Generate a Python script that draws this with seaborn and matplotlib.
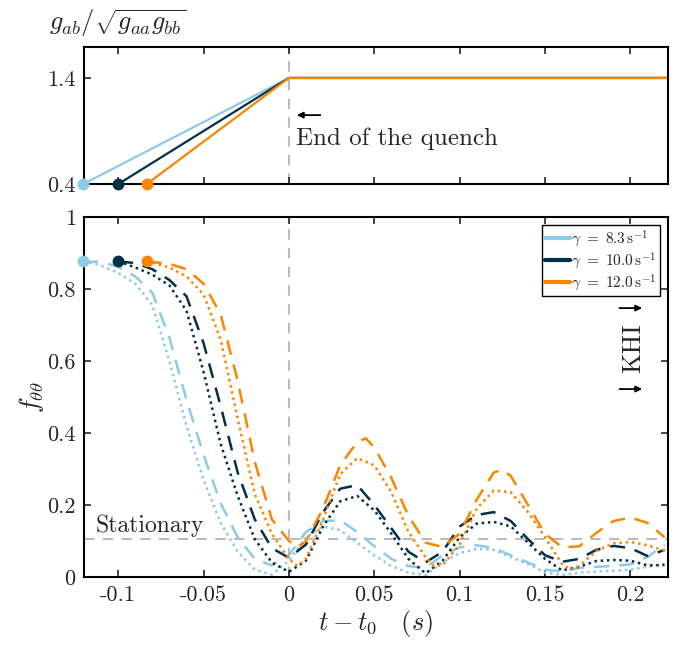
import numpy as np
import pandas as pd
import matplotlib
matplotlib.use("Agg")
import matplotlib.pyplot as plt
import seaborn as sns
from matplotlib.ticker import FuncFormatter
from matplotlib.lines import Line2D

# quench rates and their colours
gammas = ["8.3", "10.0", "12.0"]
colors = {"8.3": "#8ecae6", "10.0": "#023047", "12.0": "#fb8500"}
quench_start = {"8.3": -0.1205, "10.0": -0.1, "12.0": -0.0833}
g_before = 0.4
g_after = 1.4
t_end = 0.222
f_stationary = 0.106

# f_theta_theta curves (dashed / dotted per gamma)
t_83 = [-0.1205, -0.11, -0.10, -0.09, -0.08, -0.07, -0.06, -0.05, -0.04, -0.03, -0.02, -0.01,
        0.0, 0.01, 0.02, 0.03, 0.04, 0.05, 0.06, 0.07, 0.08, 0.09, 0.10, 0.11,
        0.12, 0.13, 0.14, 0.15, 0.16, 0.17, 0.18, 0.19, 0.20, 0.21, 0.22]
f_83_dashed = [0.877, 0.875, 0.862, 0.835, 0.79, 0.665, 0.492, 0.34, 0.205, 0.11, 0.05, 0.032,
               0.06, 0.125, 0.155, 0.157, 0.125, 0.085, 0.05, 0.03, 0.025, 0.06, 0.082, 0.088,
               0.08, 0.06, 0.04, 0.02, 0.015, 0.025, 0.028, 0.03, 0.035, 0.055, 0.09]
f_83_dotted = [0.877, 0.865, 0.845, 0.815, 0.755, 0.60, 0.42, 0.27, 0.15, 0.07, 0.02, 0.006,
               0.045, 0.11, 0.14, 0.13, 0.095, 0.06, 0.03, 0.012, 0.005, 0.04, 0.066, 0.078,
               0.075, 0.055, 0.035, 0.012, 0.005, 0.012, 0.015, 0.017, 0.02, 0.028, 0.035]

t_10 = [-0.10, -0.09, -0.08, -0.07, -0.06, -0.05, -0.04, -0.03, -0.02, -0.01,
        0.0, 0.01, 0.02, 0.03, 0.04, 0.05, 0.06, 0.07, 0.08, 0.09, 0.10, 0.11,
        0.12, 0.13, 0.14, 0.15, 0.16, 0.17, 0.18, 0.19, 0.20, 0.21, 0.22]
f_10_dashed = [0.877, 0.872, 0.855, 0.825, 0.78, 0.65, 0.475, 0.29, 0.16, 0.08,
               0.053, 0.09, 0.18, 0.245, 0.255, 0.2, 0.135, 0.07, 0.04, 0.07, 0.14, 0.172,
               0.18, 0.155, 0.105, 0.06, 0.042, 0.05, 0.075, 0.086, 0.08, 0.058, 0.075]
f_10_dotted = [0.877, 0.86, 0.84, 0.81, 0.74, 0.57, 0.37, 0.225, 0.105, 0.04,
               0.014, 0.045, 0.14, 0.21, 0.225, 0.185, 0.12, 0.05, 0.01, 0.045, 0.11, 0.148,
               0.153, 0.14, 0.095, 0.05, 0.018, 0.028, 0.044, 0.047, 0.045, 0.032, 0.033]

t_12_dashed = [-0.0833, -0.07, -0.06, -0.05, -0.04, -0.03, -0.02, -0.01,
               0.0, 0.005, 0.01, 0.02, 0.03, 0.04, 0.045, 0.05, 0.06, 0.07, 0.08, 0.09, 0.10,
               0.11, 0.12, 0.125, 0.13, 0.14, 0.15, 0.16, 0.17, 0.18, 0.19, 0.20, 0.21, 0.22]
f_12_dashed = [0.877, 0.87, 0.855, 0.815, 0.73, 0.545, 0.32, 0.16,
               0.10, 0.082, 0.10, 0.19, 0.31, 0.375, 0.385, 0.36, 0.275, 0.17, 0.095, 0.083, 0.12,
               0.215, 0.29, 0.298, 0.28, 0.2, 0.12, 0.082, 0.085, 0.122, 0.155, 0.165, 0.15, 0.11]
t_12_dotted = [-0.0833, -0.07, -0.06, -0.05, -0.04, -0.03, -0.02, -0.01,
               0.0, 0.005, 0.01, 0.02, 0.03, 0.04, 0.05, 0.06, 0.07, 0.08, 0.085, 0.09, 0.10,
               0.11, 0.12, 0.13, 0.14, 0.15, 0.16, 0.165, 0.17, 0.18, 0.19, 0.20, 0.21, 0.22]
f_12_dotted = [0.877, 0.86, 0.835, 0.785, 0.66, 0.44, 0.23, 0.12,
               0.05, 0.03, 0.05, 0.16, 0.285, 0.33, 0.31, 0.235, 0.125, 0.055, 0.03, 0.033, 0.09,
               0.19, 0.24, 0.235, 0.18, 0.11, 0.035, 0.02, 0.03, 0.072, 0.093, 0.097, 0.088, 0.073]

# long table for seaborn
parts = []
for g, kind, t, f in [("8.3", "dashed", t_83, f_83_dashed), ("8.3", "dotted", t_83, f_83_dotted),
                      ("10.0", "dashed", t_10, f_10_dashed), ("10.0", "dotted", t_10, f_10_dotted),
                      ("12.0", "dashed", t_12_dashed, f_12_dashed), ("12.0", "dotted", t_12_dotted, f_12_dotted)]:
    parts.append(pd.DataFrame({"t": t, "f": f, "gamma": g, "kind": kind}))
df = pd.concat(parts, ignore_index=True)

quench = pd.concat([pd.DataFrame({"t": [quench_start[g], 0.0, t_end],
                                  "g": [g_before, g_after, g_after], "gamma": g}) for g in gammas],
                   ignore_index=True)
starts = df.groupby(["gamma"], sort=False).first().reset_index()

sns.set_style("ticks")
plt.rcParams["font.family"] = "serif"
plt.rcParams["font.serif"] = ["cmr10", "DejaVu Serif"]
plt.rcParams["mathtext.fontset"] = "cm"
plt.rcParams["axes.unicode_minus"] = False
plt.rcParams["axes.formatter.use_mathtext"] = True

fig = plt.figure(figsize=(6.83, 6.46), dpi=100)
ax_top = fig.add_axes([0.123, 0.715, 0.855, 0.212])
ax = fig.add_axes([0.123, 0.107, 0.855, 0.557])

fmt = FuncFormatter(lambda v, p: "%g" % round(v, 4))
xticks = [-0.1, -0.05, 0, 0.05, 0.1, 0.15, 0.2]

# --- top panel: quench ramp ---
sns.lineplot(data=quench, x="t", y="g", hue="gamma", palette=colors, hue_order=gammas,
             estimator=None, sort=False, lw=1.6, legend=False, ax=ax_top)
for g in gammas:
    ax_top.plot(quench_start[g], g_before, "o", color=colors[g], ms=7.5, clip_on=False, zorder=5)
ax_top.axvline(0, color="#bbbbbb", lw=1.5, dashes=(5, 4), zorder=0)
ax_top.set_xlim(-0.12, 0.222)
ax_top.set_ylim(0.4, 1.69)
ax_top.set_yticks([0.4, 1.4])
ax_top.set_xticks(xticks)
ax_top.set_xticklabels([])
ax_top.yaxis.set_major_formatter(fmt)
ax_top.set_xlabel("")
ax_top.set_ylabel("")
ax_top.text(0.058, 1.06, r"$g_{ab}/\sqrt{g_{aa}g_{bb}}$", transform=ax_top.transAxes,
            ha="center", va="bottom", fontsize=19)
ax_top.annotate("", xy=(0.003, 1.05), xytext=(0.02, 1.05),
                arrowprops=dict(arrowstyle="-|>", color="black", lw=1.3, mutation_scale=9))
ax_top.text(0.004, 0.83, "End of the quench", fontsize=18, ha="left", va="center")

# --- bottom panel: f_theta_theta ---
sns.lineplot(data=df, x="t", y="f", hue="gamma", style="kind", palette=colors, hue_order=gammas,
             dashes={"dashed": (6, 4), "dotted": (1, 1.5)}, estimator=None, sort=False,
             lw=1.8, legend=False, ax=ax)
for _, row in starts.iterrows():
    ax.plot(row["t"], row["f"], "o", color=colors[row["gamma"]], ms=7.5, clip_on=False, zorder=5)
ax.axvline(0, color="#bbbbbb", lw=1.5, dashes=(5, 4), zorder=0)
ax.axhline(f_stationary, color="#bbbbbb", lw=1.5, dashes=(5, 4), zorder=0)
ax.text(-0.113, f_stationary + 0.006, "Stationary", fontsize=17, ha="left", va="bottom")

ax.text(0.2015, 0.636, "KHI", rotation=90, fontsize=19, ha="center", va="center")
for yy in [0.747, 0.522]:
    ax.annotate("", xy=(0.2085, yy), xytext=(0.192, yy),
                arrowprops=dict(arrowstyle="-|>", color="black", lw=1.3, mutation_scale=9))

ax.set_xlim(-0.12, 0.222)
ax.set_ylim(0, 1)
ax.set_xticks(xticks)
ax.set_yticks([0, 0.2, 0.4, 0.6, 0.8, 1])
ax.xaxis.set_major_formatter(fmt)
ax.yaxis.set_major_formatter(fmt)
ax.set_xlabel(r"$t - t_0 \quad (s)$", fontsize=19, labelpad=2)
ax.set_ylabel(r"$f_{\theta\theta}$", fontsize=19, labelpad=1)

handles = [Line2D([], [], color=colors[g], lw=3) for g in gammas]
labels = [r"$\gamma\ =\ %s\,\mathrm{s}^{-1}$" % g for g in gammas]
leg = ax.legend(handles, labels, loc="upper right", fontsize=11, handlelength=1.6,
                handletextpad=0.1, borderpad=0.2, labelspacing=0.1, fancybox=False,
                framealpha=1, edgecolor="black", borderaxespad=0.55)
leg.get_frame().set_linewidth(1.0)

for a in [ax_top, ax]:
    for s in a.spines.values():
        s.set_linewidth(1.5)
        s.set_color("black")
    a.tick_params(direction="in", top=True, right=True, length=5, width=1.2, labelsize=16,
                  pad=6)

fig.savefig("out.png", dpi=100)
